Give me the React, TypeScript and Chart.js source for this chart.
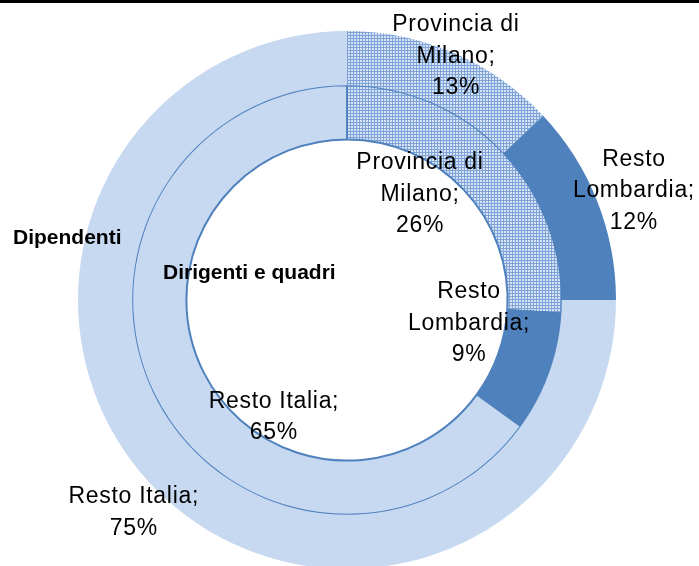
import { useEffect, useRef } from "react";
import { Chart, registerables } from "chart.js";

Chart.register(...registerables);

const categories = ["Provincia di Milano", "Resto Lombardia", "Resto Italia"];
const dipendenti = [13, 12, 75];
const dirigentiQuadri = [26, 9, 65];
const seriesNames = ["Dipendenti", "Dirigenti e quadri"];

const LIGHT = "#C6D9F1";
const DARK = "#4F81BD";
const LINE_H = 31.5;

// label placement: [angle in degrees clockwise from top, radius as fraction of outer radius]
const labelLayout: number[][][] = [
  [
    [24.1, 0.992],
    [69.2, 1.141],
    [225.1, 1.119],
  ],
  [
    [34.6, 0.478],
    [100.9, 0.462],
    [211.9, 0.514],
  ],
];
// series name placement: [left x offset, y offset] from chart centre
const seriesLabelLayout: number[][] = [
  [-334, -62],
  [-184, -27],
];

function makePattern(): CanvasPattern | string {
  const c = document.createElement("canvas");
  c.width = 3;
  c.height = 3;
  const g = c.getContext("2d");
  if (!g) return "#A9C2E6";
  g.fillStyle = "#7FA3D7";
  g.fillRect(0, 0, 3, 3);
  g.fillStyle = "#D6E3F4";
  g.fillRect(0, 0, 2, 2);
  const p = g.createPattern(c, "repeat");
  return p || "#A9C2E6";
}

function wrap(ctx: CanvasRenderingContext2D, text: string, maxW: number): string[] {
  const words = text.split(" ");
  const lines: string[] = [];
  let cur = "";
  for (const w of words) {
    const test = cur ? cur + " " + w : w;
    if (cur && ctx.measureText(test).width > maxW) {
      lines.push(cur);
      cur = w;
    } else {
      cur = test;
    }
  }
  if (cur) lines.push(cur);
  return lines;
}

const labelPlugin = {
  id: "ringLabels",
  afterDatasetsDraw(chart: any) {
    const ctx: CanvasRenderingContext2D = chart.ctx;
    const a0 = chart.getDatasetMeta(0).data[0];
    const cx = a0.x;
    const cy = a0.y;
    const R = a0.outerRadius;
    ctx.save();
    ctx.fillStyle = "#000000";
    ctx.font = '23px "Liberation Sans"';
    (ctx as any).letterSpacing = "0.7px";
    ctx.textAlign = "center";
    ctx.textBaseline = "middle";
    chart.data.datasets.forEach((ds: any, di: number) => {
      ds.data.forEach((v: number, i: number) => {
        const lines = wrap(ctx, `${categories[i]};`, 150);
        lines.push(`${v}%`);
        const [ang, rr] = labelLayout[di][i];
        const t = (ang * Math.PI) / 180;
        const x = cx + Math.sin(t) * rr * R;
        const y = cy - Math.cos(t) * rr * R;
        lines.forEach((ln, k) => {
          ctx.fillText(ln, x, y + (k - (lines.length - 1) / 2) * LINE_H);
        });
      });
    });
    ctx.font = 'bold 21px "Liberation Sans"';
    (ctx as any).letterSpacing = "0px";
    ctx.textAlign = "left";
    seriesNames.forEach((name, i) => {
      const [dx, dy] = seriesLabelLayout[i];
      ctx.fillText(name, cx + dx, cy + dy);
    });
    ctx.restore();
  },
};

export default function App() {
  const ref = useRef<HTMLCanvasElement>(null);
  useEffect(() => {
    if (!ref.current) return;
    const pattern = makePattern();
    const chart = new Chart(ref.current, {
      type: "doughnut",
      data: {
        labels: categories,
        datasets: [
          {
            label: seriesNames[0],
            data: dipendenti,
            backgroundColor: [pattern, DARK, LIGHT] as any,
            borderWidth: 0,
          },
          {
            label: seriesNames[1],
            data: dirigentiQuadri,
            backgroundColor: [pattern, DARK, LIGHT] as any,
            borderColor: DARK,
            borderWidth: 2,
          },
        ],
      },
      options: {
        responsive: false,
        animation: false,
        cutout: "59.7%",
        layout: { padding: { left: 78, right: 83, top: 31, bottom: 31 } },
        plugins: {
          legend: { display: false },
          tooltip: { enabled: false },
        },
      },
      plugins: [labelPlugin],
    });
    return () => chart.destroy();
  }, []);
  return (
    <div
      style={{
        position: "fixed",
        left: 0,
        top: 0,
        width: 699,
        height: 566,
        overflow: "hidden",
        background: "#ffffff",
      }}
    >
      <canvas ref={ref} width={699} height={600} style={{ display: "block" }} />
      <div
        style={{
          position: "absolute",
          left: 0,
          top: 0,
          width: 699,
          height: 3,
          background: "#000000",
        }}
      />
    </div>
  );
}
